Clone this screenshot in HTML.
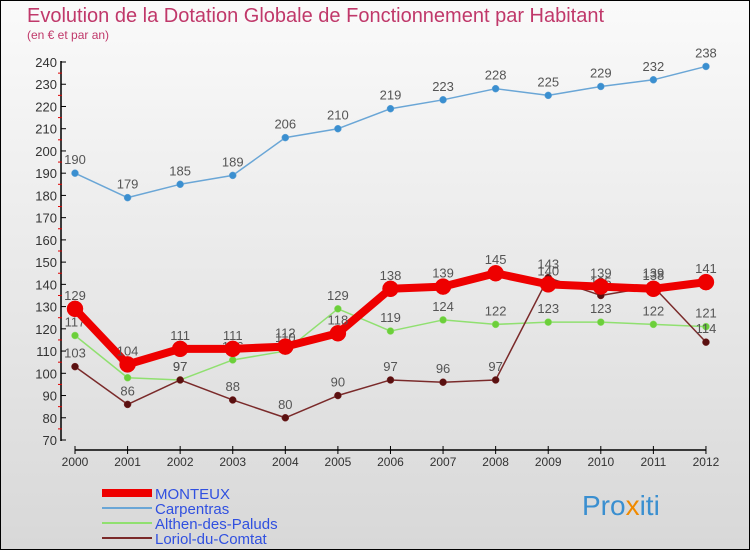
<!DOCTYPE html>
<html><head><meta charset="utf-8"><style>
body{margin:0;width:750px;height:550px;overflow:hidden;font-family:"Liberation Sans",sans-serif}
#wrap{position:absolute;left:0;top:0;width:748px;height:548px;border:1px solid #000;background:linear-gradient(#fafafa,#d8d8d8)}
</style></head><body>
<div id="wrap">
<svg id="chart" width="750" height="550" style="position:absolute;left:-1px;top:-1px">
<text x="27" y="22" font-size="20" fill="#c0386a">Evolution de la Dotation Globale de Fonctionnement par Habitant</text>
<text x="27" y="39" font-size="12" fill="#c0386a">(en € et par an)</text>
<g id="axes"></g><g id="series"></g><g id="legend"></g>
<text x="582" y="515" font-size="28" fill="#3a8fd0">Pro<tspan fill="#f08a00">x</tspan>iti</text>
</svg></div>
<script>
const years=[2000,2001,2002,2003,2004,2005,2006,2007,2008,2009,2010,2011,2012];
const yTicks=[70,80,90,100,110,120,130,140,150,160,170,180,190,200,210,220,230,240];
const monteux=[129,104,111,111,112,118,138,139,145,140,139,138,141];
const carpentras=[190,179,185,189,206,210,219,223,228,225,229,232,238];
const althen=[117,98,97,106,110,129,119,124,122,123,123,122,121];
const loriol=[103,86,97,88,80,90,97,96,97,143,135,139,114];
const NS='http://www.w3.org/2000/svg';
const X=i=>75+i*52.58;
const Y=v=>440-(v-70)*2.2235;
function mk(t,a,p){const e=document.createElementNS(NS,t);for(const k in a)e.setAttribute(k,a[k]);p.appendChild(e);return e;}
const ax=document.getElementById('axes');
const yl=mk('line',{x1:61,y1:61,x2:61,y2:441,stroke:'#000','stroke-width':1.5},ax);


yTicks.forEach((v,k)=>{
 mk('line',{x1:61,y1:Y(v),x2:66,y2:Y(v),stroke:'#000'},ax);
 if(k<yTicks.length-1)mk('line',{x1:58,y1:Y(v+5),x2:62,y2:Y(v+5),stroke:'#d00'},ax);
 const t=mk('text',{x:57,y:Y(v)+5,'font-size':13,fill:'#333','text-anchor':'end'},ax);t.textContent=v;
 
 
});
const xl=mk('line',{x1:X(0),y1:450,x2:X(12),y2:450,stroke:'#000','stroke-width':1.5},ax);


years.forEach((y,i)=>{
 mk('line',{x1:X(i),y1:446,x2:X(i),y2:454,stroke:'#000'},ax);
 const t=mk('text',{x:X(i),y:466,'font-size':12,fill:'#333','text-anchor':'middle'},ax);t.textContent=y;
 
 
});
const sg=document.getElementById('series');
function series(data,color,dot,w,r,name,labels){
 const g=mk('g',{},sg);
 
 
 mk('polyline',{points:data.map((v,i)=>X(i)+','+Y(v)).join(' '),fill:'none',stroke:color,'stroke-width':w,'stroke-linejoin':'round'},g);
 data.forEach((v,i)=>{
  const c=mk('circle',{cx:X(i),cy:Y(v),r:r,fill:dot,stroke:color,'stroke-width':0.5},g);
  
  
  if(labels){const t=mk('text',{x:X(i),y:Y(v)-9,'font-size':13,fill:'#555','text-anchor':'middle'},g);t.textContent=v;}
 });
}
series(carpentras,'#6aa6d6','#3a8fd0',1.5,3.5,'carpentras',true);
series(althen,'#90e070','#6ccf3a',1.5,3.5,'althen',true);
series(loriol,'#7a2a2a','#5a1010',1.5,3.5,'loriol',true);
series(monteux,'#ee0000','#ee0000',8,8,'monteux',true);
const lg=document.getElementById('legend');
[['MONTEUX','#ee0000',8],['Carpentras','#6aa6d6',2],['Althen-des-Paluds','#90e070',2],['Loriol-du-Comtat','#7a2a2a',2]].forEach((d,i)=>{
 const y=493+i*15;
 const g=mk('g',{},lg);
 
 
 mk('line',{x1:102,y1:y,x2:152,y2:y,stroke:d[1],'stroke-width':d[2]},g);
 const t=mk('text',{x:155,y:y+6,'font-size':15,fill:'#3050e0'},g);t.textContent=d[0];
});
</script>
</body></html>
